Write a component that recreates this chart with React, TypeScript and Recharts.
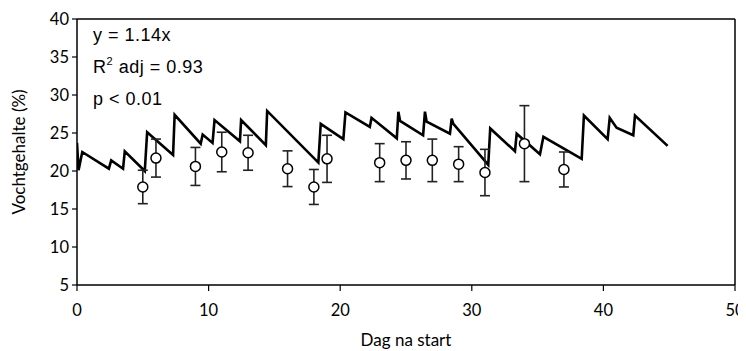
import React from 'react'
import {
  ComposedChart,
  Line,
  Scatter,
  ErrorBar,
  XAxis,
  YAxis,
  ReferenceLine,
} from 'recharts'

// modelled moisture content (sawtooth)
const lineDays = [
  0, 0.12, 0.4, 2.42, 2.6, 3.5, 3.63, 5.15, 5.33, 7.3, 7.42, 9.4, 9.55, 10.3,
  10.45, 12.38, 12.47, 14.35, 14.45, 18.34, 18.52, 20.24, 20.4, 22.25, 22.38,
  24.3, 24.42, 24.55, 26.3, 26.44, 26.57, 28.34, 28.47, 28.6, 31.25, 31.4,
  33.28, 33.41, 35.18, 35.44, 38.35, 38.52, 40.32, 40.48, 41.0, 42.27, 42.4,
  44.88,
]
const lineVals = [
  23.7, 20.1, 22.5, 20.3, 21.4, 20.3, 22.6, 20.0, 25.1, 22.1, 27.4, 23.6, 24.8,
  23.7, 26.7, 23.9, 26.7, 23.4, 27.9, 21.1, 26.2, 24.2, 27.7, 25.8, 27.0, 24.3,
  27.8, 26.6, 24.7, 27.8, 26.5, 24.9, 26.9, 26.2, 20.8, 25.6, 22.6, 24.9, 22.2,
  24.5, 21.6, 27.3, 24.2, 27.0, 25.7, 24.7, 27.3, 23.3,
]

// measured values with error
const obsDays = [5, 6, 9, 11, 13, 16, 18, 19, 23, 25, 27, 29, 31, 34, 37]
const obsMeans = [
  17.9, 21.7, 20.6, 22.5, 22.4, 20.3, 17.9, 21.6, 21.1, 21.4, 21.4, 20.9, 19.8,
  23.6, 20.2,
]
const obsErrs = [
  2.2, 2.5, 2.5, 2.6, 2.3, 2.35, 2.3, 3.1, 2.5, 2.45, 2.8, 2.3, 3.05, 5.0, 2.3,
]

const xTicks = [0, 10, 20, 30, 40, 50]
const yTicks = [5, 10, 15, 20, 25, 30, 35, 40]

const lineData = lineDays.map((d, i) => ({ day: d, val: lineVals[i] }))
const obsData = obsDays.map((d, i) => ({
  day: d,
  val: obsMeans[i],
  err: obsErrs[i],
}))

const tickFont = { fontFamily: 'Lato', fontSize: 16.5, fill: '#000' }
const titleFont = { fontFamily: 'Lato', fontSize: 17, fill: '#000' }

const Dot = (p: any) => (
  <circle cx={p.cx} cy={p.cy} r={5} fill="#fff" stroke="#000" strokeWidth={1.5} />
)

export default function App() {
  return (
    <div style={{ position: 'relative', width: 738, height: 343 }}>
      <ComposedChart
        width={738}
        height={343}
        margin={{ top: 11, right: 11, bottom: 0, left: 0 }}
      >
        <XAxis
          type="number"
          dataKey="day"
          domain={[0, 50]}
          ticks={xTicks}
          allowDataOverflow
          height={66}
          tickSize={6}
          tickMargin={13}
          tick={tickFont}
          axisLine={{ stroke: '#000', strokeWidth: 1.5 }}
          tickLine={{ stroke: '#000', strokeWidth: 1.2 }}
          label={{
            value: 'Dag na start',
            position: 'insideBottom',
            offset: 5,
            style: titleFont,
          }}
        />
        <YAxis
          type="number"
          domain={[5, 40]}
          ticks={yTicks}
          allowDataOverflow
          width={69}
          tickSize={5}
          tickMargin={3}
          tick={tickFont}
          axisLine={{ stroke: '#000', strokeWidth: 1.5 }}
          tickLine={{ stroke: '#000', strokeWidth: 1.2 }}
          label={{
            value: 'Vochtgehalte (%)',
            angle: -90,
            position: 'insideLeft',
            offset: 11,
            style: { ...titleFont, textAnchor: 'middle' },
          }}
        />
        <ReferenceLine y={40} stroke="#000" strokeWidth={1.5} />
        <ReferenceLine x={50} stroke="#000" strokeWidth={1.5} />
        <Line
          data={lineData}
          dataKey="val"
          type="linear"
          stroke="#000"
          strokeWidth={2.6}
          dot={false}
          isAnimationActive={false}
        />
        <Scatter
          data={obsData}
          dataKey="val"
          shape={Dot}
          isAnimationActive={false}
        >
          <ErrorBar
            dataKey="err"
            direction="y"
            width={5}
            stroke="#222"
            strokeWidth={1.6}
          />
        </Scatter>
      </ComposedChart>
      <div
        style={{
          position: 'absolute',
          left: 85,
          top: 11,
          fontFamily: 'Liberation Sans',
          fontSize: 18,
          letterSpacing: 0.5,
          lineHeight: '32px',
          color: '#000',
        }}
      >
        <div>y = 1.14x</div>
        <div>
          R<sup style={{ fontSize: 11, lineHeight: 0, verticalAlign: 8 }}>2</sup> adj = 0.93
        </div>
        <div>p &lt; 0.01</div>
      </div>
    </div>
  )
}
